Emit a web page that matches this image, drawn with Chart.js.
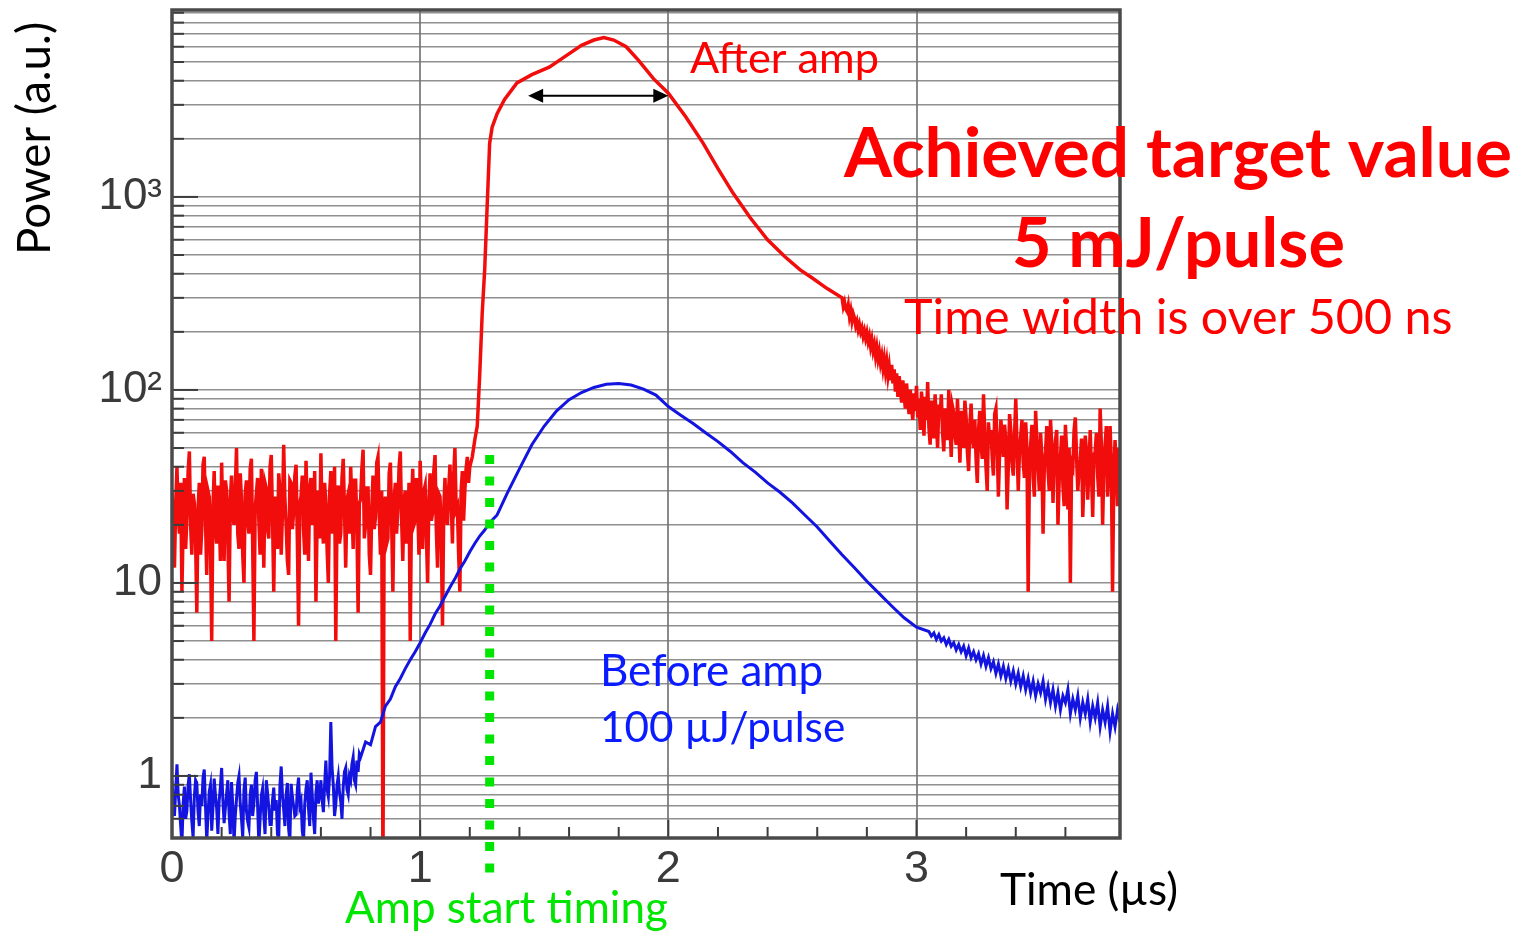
<!DOCTYPE html>
<html>
<head>
<meta charset="utf-8">
<title>Pulse power before / after amp</title>
<script src="https://cdn.jsdelivr.net/npm/chart.js@4.4.1/dist/chart.umd.min.js"></script>
<style>
  html, body { margin: 0; padding: 0; background: #fff; overflow: hidden; }
  canvas { display: block; }
</style>
</head>
<body>
<canvas id="pulseChart" width="1533" height="932"></canvas>
<script>
// ---- data (time in µs, power in a.u.) ----

// before amp: noisy floor, every 0.005 µs from 0.000
const blueFloorStep = 0.005;
const blueFloor = [
  0.95, 0.7, 0.62, 0.85, 1.15, 0.8, 0.7, 0.55, 0.44, 0.72, 0.88, 0.6, 0.66, 0.9, 1.02, 0.75, 0.58, 0.48, 0.78, 0.95,
  0.92, 0.65, 0.55, 0.8, 0.7, 0.98, 1.08, 0.7, 0.46, 0.62, 0.83, 0.9, 0.52, 0.68, 0.97, 0.8, 0.68, 0.5, 0.74, 0.88,
  1.1, 0.75, 0.57, 0.68, 0.81, 0.95, 0.64, 0.5, 0.93, 0.7, 0.45, 0.62, 0.76, 0.92, 1.0, 0.72, 0.6, 0.48, 0.85, 0.98,
  0.66, 0.58, 0.54, 0.8, 0.9, 0.62, 0.72, 0.95, 1.05, 0.7, 0.44, 0.6, 0.79, 0.86, 0.62, 0.5, 0.95, 0.82, 0.69, 0.56,
  0.56, 0.75, 0.87, 0.66, 0.75, 0.5, 0.47, 0.9, 1.12, 0.8, 0.67, 0.55, 0.8, 0.92, 0.53, 0.46, 0.91, 0.78, 0.7, 0.62,
  0.63, 0.85, 0.98, 0.7, 0.74, 0.52, 0.46, 0.72, 0.86, 0.95, 0.68, 0.55, 1.04, 0.8, 0.6, 0.5, 0.82, 0.95, 0.72, 0.8,
  0.95, 0.75, 0.65, 0.9, 1.2, 0.85, 0.78, 1.0, 1.9, 1.1, 0.9, 0.62, 0.71, 0.9, 1.0, 0.82, 0.74, 0.6, 0.88, 1.05,
  1.1, 0.85, 0.8, 1.0, 0.95, 1.15, 1.25, 0.95, 0.9, 1.2, 1.05, 1.3
];
// before amp: rise and main pulse (t, value)
const blueRiseTime = [0.76, 0.78, 0.80, 0.82, 0.84, 0.86, 0.88, 0.90, 0.92, 0.94, 0.96, 0.98, 1.00, 1.02, 1.04, 1.06, 1.08, 1.10, 1.12, 1.14, 1.16, 1.18, 1.20, 1.22, 1.24, 1.26, 1.28,
  1.31, 1.35, 1.40, 1.45, 1.50, 1.55, 1.60, 1.65, 1.70, 1.75, 1.80, 1.85, 1.90, 1.95, 2.00, 2.05, 2.10, 2.15, 2.20, 2.25, 2.30, 2.35, 2.40, 2.45, 2.50, 2.55, 2.60, 2.65, 2.70, 2.75, 2.80, 2.85, 2.90, 2.95, 3.00];
const blueRiseValue = [1.25, 1.5, 1.45, 1.8, 1.9, 2.3, 2.5, 2.9, 3.2, 3.6, 4.0, 4.4, 4.9, 5.5, 6.1, 6.9, 7.6, 8.5, 9.5, 10.5, 11.8, 13.0, 14.5, 16.0, 17.5, 18.8, 20.5,
  22.5, 29, 39, 52, 65, 78, 89, 97, 103, 107, 108, 106, 101, 94, 82, 74, 67, 60, 54, 48, 42, 37.5, 33, 29.5, 26, 22.5, 19.5, 16.5, 14, 12, 10.2, 8.8, 7.6, 6.6, 5.9];
// before amp: noisy tail, every 0.01 µs from 3.05
const blueTailStart = 3.05, blueTailStep = 0.01;
const blueTail = [
  5.6, 5.3, 5.5, 5.1, 5.4, 5.0, 5.2, 4.8, 5.1, 4.7,
  4.9, 4.5, 4.8, 4.4, 4.7, 4.2, 4.6, 4.1, 4.4, 4.0,
  4.3, 3.8, 4.2, 3.7, 4.1, 3.6, 3.9, 3.4, 3.8, 3.3,
  3.7, 3.2, 3.6, 3.1, 3.5, 3.0, 3.4, 2.9, 3.3, 2.8,
  3.2, 2.7, 3.1, 2.6, 3.0, 2.7, 3.1, 2.5, 2.9, 2.4,
  2.8, 2.3, 2.7, 2.2, 2.6, 2.4, 2.8, 2.1, 2.5, 2.2,
  2.6, 2.0, 2.4, 2.1, 2.5, 1.9, 2.3, 2.0, 2.4, 1.8,
  2.2, 1.9, 2.3, 1.7, 2.1, 1.8, 2.2, 1.9
];

// after amp: noisy floor, every 0.005 µs from 0.000
const redFloorStep = 0.005;
const redFloor = [
  30, 18, 12, 26, 40, 22, 18, 33, 9, 20, 35, 15, 22, 38, 48, 20, 14, 29, 26, 17,
  7, 24, 33, 14, 19, 41, 45, 21, 11, 30, 28, 16, 5, 25, 38, 19, 16, 32, 24, 13,
  42, 20, 13, 34, 30, 17, 8, 27, 36, 22, 20, 31, 50, 18, 15, 37, 27, 14, 10, 29,
  34, 21, 18, 39, 44, 16, 5, 24, 29, 35, 21, 14, 39, 26, 12, 33, 31, 19, 17, 40,
  46, 22, 9, 28, 25, 15, 37, 30, 14, 23, 52, 27, 20, 13, 11, 34, 33, 19, 23, 36,
  41, 17, 6, 26, 28, 36, 19, 14, 43, 25, 13, 31, 35, 20, 24, 38, 8, 22, 30, 17,
  47, 21, 16, 33, 26, 15, 10, 29, 38, 18, 21, 40, 5, 23, 32, 16, 18, 35, 44, 24,
  12, 27, 29, 18, 40, 25, 15, 34, 34, 20, 7, 26, 27, 39, 49, 17, 20, 31, 31, 14,
  11, 24, 36, 19, 22, 42, 45, 23, 14, 30, 0.3, 25, 28, 16, 17, 37, 42, 21, 9, 27,
  33, 18, 24, 40, 48, 22, 13, 27, 30, 16, 19, 33, 5, 24, 39, 20, 21, 35, 26, 14,
  43, 25, 15, 30, 32, 18, 10, 26, 37, 21, 23, 38, 46, 19, 12, 29, 28, 17, 6, 24,
  35, 22, 20, 31, 41, 27, 16, 36, 50, 24, 25, 14, 9, 30, 38, 21, 30, 39, 45, 33,
  40
];
// after amp: switch-on and amplified pulse (t, value)
const redPulseTime = [1.21, 1.22, 1.23, 1.24, 1.25, 1.26, 1.27, 1.28, 1.29, 1.31, 1.34, 1.39, 1.45, 1.52, 1.58, 1.65, 1.70, 1.74, 1.78, 1.83, 1.88, 1.94, 2.00, 2.07, 2.14, 2.20, 2.26, 2.33, 2.40, 2.47, 2.53, 2.58, 2.64];
const redPulseValue = [45, 55, 65, 120, 250, 420, 900, 1900, 2300, 2700, 3200, 3900, 4300, 4700, 5300, 6100, 6500, 6700, 6500, 6000, 5100, 4100, 3450, 2600, 1900, 1400, 1050, 780, 600, 490, 420, 380, 335];
// after amp: noisy tail, every 0.005 µs from 2.700
const redTailStart = 2.70, redTailStep = 0.005;
const redTail = [
  300, 270, 285, 262, 255, 275, 240, 258, 228, 248, 236, 215, 226, 205, 218, 200, 210, 190, 202, 185,
  198, 178, 190, 168, 182, 160, 172, 150, 166, 145, 158, 138, 150, 130, 145, 125, 140, 118, 132, 112,
  135, 108, 128, 98, 122, 92, 118, 102, 86, 112, 95, 80, 108, 88, 75, 100, 82, 70, 96, 78,
  105, 72, 90, 62, 98, 80, 58, 92, 70, 110, 64, 52, 88, 75, 56, 95, 68, 50, 84, 72,
  95, 60, 48, 80, 70, 55, 100, 66, 45, 82, 76, 58, 52, 90, 62, 42, 78, 70, 50, 88,
  72, 48, 38, 66, 85, 56, 50, 70, 44, 33, 62, 78, 52, 44, 95, 60, 40, 30, 68, 55,
  62, 45, 36, 75, 80, 52, 28, 48, 70, 58, 45, 66, 55, 24, 40, 75, 62, 42, 36, 58,
  90, 52, 30, 48, 58, 70, 42, 35, 68, 50, 9, 38, 52, 66, 35, 28, 78, 55, 40, 30,
  60, 45, 18, 40, 48, 65, 38, 30, 70, 52, 26, 44, 55, 62, 20, 34, 45, 58, 32, 25,
  66, 48, 24, 50, 10, 42, 40, 62, 72, 45, 30, 38, 44, 56, 22, 35, 58, 48, 27, 40,
  62, 38, 22, 46, 48, 60, 36, 28, 80, 52, 20, 40, 52, 65, 28, 38, 65, 42, 9, 35,
  55, 40, 25, 50, 42
];

// axes
const xMin = 0, xMax = 3.82, xStep = 0.2;
const yMin = 0.477, yMax = 9300;
const yTickValues = [1, 10, 100, 1000];
const yTickText = ['1', '10', '10²', '10³'];

// annotation anchors (data units)
const ampStartTime = 1.28, ampStartTop = 46;
const widthArrowFrom = 1.435, widthArrowTo = 2.0, widthArrowLevel = 3340;

// ---- build points ----
const sampled = (start, step, vals) => vals.map((v, i) => ({ x: +(start + i * step).toFixed(4), y: v }));
const paired = (ts, vs) => ts.map((t, i) => ({ x: t, y: vs[i] }));

const bluePoints = [].concat(sampled(0, blueFloorStep, blueFloor), paired(blueRiseTime, blueRiseValue), sampled(blueTailStart, blueTailStep, blueTail));
const redPoints = [].concat(sampled(0, redFloorStep, redFloor), paired(redPulseTime, redPulseValue), sampled(redTailStart, redTailStep, redTail));

const isDecade = v => { const e = Math.log10(v); return Math.abs(e - Math.round(e)) < 1e-6; };
const isHalfStep = v => { const m = v / Math.pow(10, Math.floor(Math.log10(v) + 1e-9)); return Math.abs(m - 1.5) < 1e-6; };
const isWhole = v => Math.abs(v - Math.round(v)) < 1e-6;

const FONT = 'Lato, "Open Sans", sans-serif';

function fitText(ctx, text, x, y, width, weight, color) {
  ctx.font = weight + ' 100px ' + FONT;
  const size = 100 * width / ctx.measureText(text).width;
  ctx.font = weight + ' ' + size.toFixed(1) + 'px ' + FONT;
  ctx.fillStyle = color;
  ctx.fillText(text, x, y);
}

// frame and inward tick marks
const framePlugin = {
  id: 'frame',
  afterDatasetsDraw(chart) {
    const { ctx, chartArea: a, scales } = chart;
    ctx.save();
    ctx.strokeStyle = '#3c3c3c';
    ctx.lineWidth = 2;
    scales.x.ticks.forEach(t => {
      if (t.value <= xMin || t.value >= xMax) return;
      const px = scales.x.getPixelForValue(t.value);
      const len = isWhole(t.value) ? 18 : 11;
      ctx.beginPath();
      ctx.moveTo(px, a.bottom); ctx.lineTo(px, a.bottom - len);
      ctx.stroke();
    });
    scales.y.ticks.forEach(t => {
      if (t.value <= yMin || t.value >= yMax || isHalfStep(t.value)) return;
      const py = scales.y.getPixelForValue(t.value);
      const len = isDecade(t.value) ? 26 : 12;
      ctx.beginPath();
      ctx.moveTo(a.left, py); ctx.lineTo(a.left + len, py);
      ctx.stroke();
    });
    ctx.lineWidth = 3.5;
    ctx.strokeStyle = '#4a4a4a';
    ctx.strokeRect(a.left, a.top, a.right - a.left, a.bottom - a.top);
    ctx.restore();
  }
};

// texts, start-timing marker and width arrow
const notesPlugin = {
  id: 'notes',
  afterDraw(chart) {
    const { ctx, chartArea: a, scales } = chart;
    ctx.save();
    ctx.textBaseline = 'alphabetic';
    ctx.textAlign = 'left';

    // amp start timing marker
    const gx = scales.x.getPixelForValue(ampStartTime);
    ctx.strokeStyle = '#00e600';
    ctx.lineWidth = 9;
    ctx.setLineDash([9, 12.5]);
    ctx.beginPath();
    ctx.moveTo(gx, scales.y.getPixelForValue(ampStartTop));
    ctx.lineTo(gx, a.bottom + 42);
    ctx.stroke();
    ctx.setLineDash([]);

    // width arrow
    const x1 = scales.x.getPixelForValue(widthArrowFrom);
    const x2 = scales.x.getPixelForValue(widthArrowTo);
    const ay = scales.y.getPixelForValue(widthArrowLevel);
    ctx.strokeStyle = '#000';
    ctx.fillStyle = '#000';
    ctx.lineWidth = 2;
    ctx.beginPath(); ctx.moveTo(x1 + 10, ay); ctx.lineTo(x2 - 10, ay); ctx.stroke();
    ctx.beginPath(); ctx.moveTo(x1, ay); ctx.lineTo(x1 + 15, ay - 7); ctx.lineTo(x1 + 15, ay + 7); ctx.closePath(); ctx.fill();
    ctx.beginPath(); ctx.moveTo(x2, ay); ctx.lineTo(x2 - 15, ay - 7); ctx.lineTo(x2 - 15, ay + 7); ctx.closePath(); ctx.fill();

    fitText(ctx, 'After amp', 690, 73, 189, 'normal', '#ff0000');
    fitText(ctx, 'Achieved target value', 844, 177, 668, 'bold', '#ff0000');
    fitText(ctx, '5 mJ/pulse', 1012, 267, 333, 'bold', '#ff0000');
    fitText(ctx, 'Time width is over 500 ns', 904, 334, 549, 'normal', '#ff0000');
    fitText(ctx, 'Before amp', 600, 686, 223, 'normal', '#0a1cff');
    fitText(ctx, '100 µJ/pulse', 600, 742, 245, 'normal', '#0a1cff');
    fitText(ctx, 'Amp start timing', 345, 923, 323, 'normal', '#00e600');
    fitText(ctx, 'Time (µs)', 1000, 905, 178, 'normal', '#000');

    ctx.translate(50, 255);
    ctx.rotate(-Math.PI / 2);
    fitText(ctx, 'Power (a.u.)', 0, 0, 233, 'normal', '#000');
    ctx.restore();
  }
};

const ctx = document.getElementById('pulseChart').getContext('2d');
new Chart(ctx, {
  type: 'line',
  data: {
    datasets: [
      {
        label: 'Before amp',
        data: bluePoints,
        borderColor: '#1414e0',
        borderWidth: 3,
        pointRadius: 0,
        tension: 0
      },
      {
        label: 'After amp',
        data: redPoints,
        borderColor: '#f20d0d',
        borderWidth: 3.5,
        pointRadius: 0,
        tension: 0
      }
    ]
  },
  options: {
    responsive: false,
    animation: false,
    events: [],
    layout: { padding: { left: 0, top: 10, right: 413, bottom: 0 } },
    plugins: { legend: { display: false }, tooltip: { enabled: false } },
    scales: {
      x: {
        type: 'linear',
        min: xMin,
        max: xMax,
        afterFit: s => { s.height = 94; s.paddingLeft = 0; s.paddingRight = 0; },
        border: { display: false },
        grid: {
          drawTicks: false,
          color: c => (isWhole(c.tick.value) && c.tick.value > 0 ? '#8a8a8a' : 'rgba(0,0,0,0)'),
          lineWidth: 2
        },
        ticks: {
          stepSize: xStep,
          autoSkip: false,
          maxRotation: 0,
          padding: 5,
          color: '#3a3a3a',
          font: { family: '"Liberation Sans", Arial, sans-serif', size: 45 },
          callback: v => (isWhole(v) ? String(Math.round(v)) : '')
        }
      },
      y: {
        type: 'logarithmic',
        min: yMin,
        max: yMax,
        afterFit: s => { s.width = 172; s.paddingTop = 0; s.paddingBottom = 0; },
        border: { display: false },
        grid: {
          drawTicks: false,
          color: c => (isHalfStep(c.tick.value) || c.tick.value <= yMin || c.tick.value >= yMax ? 'rgba(0,0,0,0)' : 'rgba(115,115,115,0.8)'),
          lineWidth: 1.6
        },
        ticks: {
          autoSkip: false,
          padding: 10,
          color: '#3a3a3a',
          font: { family: '"Liberation Sans", Arial, sans-serif', size: 44 },
          callback: v => {
            const i = yTickValues.findIndex(d => Math.abs(d - v) < 1e-6 * d);
            return i >= 0 ? yTickText[i] : '';
          }
        }
      }
    }
  },
  plugins: [framePlugin, notesPlugin]
});
</script>
</body>
</html>
